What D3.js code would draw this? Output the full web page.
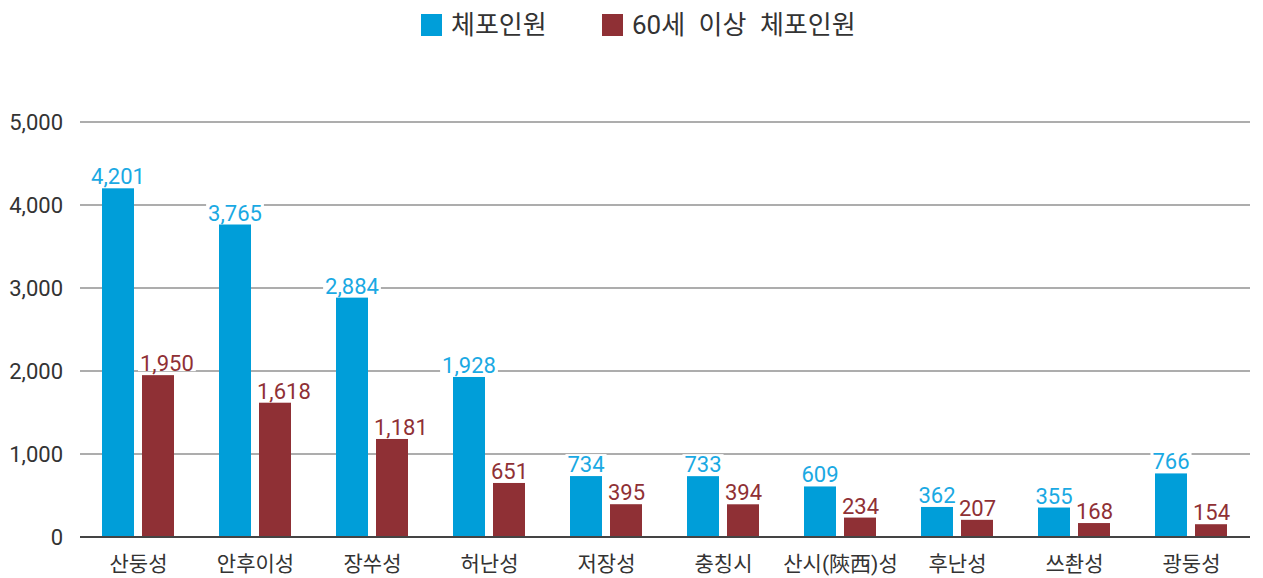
<!DOCTYPE html>
<html>
<head>
<meta charset="utf-8">
<script src="https://cdn.jsdelivr.net/npm/d3@7"></script>
<style>
  body { margin: 0; background: #fff; }
  svg { font-family: Roboto, "Noto Sans CJK KR", sans-serif; }
</style>
</head>
<body>
<svg id="chart" width="1263" height="578"></svg>
<script>
const provinces = ['산둥성', '안후이성', '장쑤성', '허난성', '저장성', '충칭시', '산시(陝西)성', '후난성', '쓰촨성', '광둥성'];
const arrested = [4201, 3765, 2884, 1928, 734, 733, 609, 362, 355, 766];
const arrested60 = [1950, 1618, 1181, 651, 395, 394, 234, 207, 168, 154];
const seriesNames = ['체포인원', '60세 이상 체포인원'];
const yTicks = [0, 1000, 2000, 3000, 4000, 5000];

const barColors = ['#009ed9', '#8f3035'];
const labelColors = ['#1aa9e3', '#8f3035'];
const fontStack = 'Roboto, "Noto Sans CJK KR", sans-serif';

const svg = d3.select('#chart');
const margin = { top: 122, right: 13, bottom: 41, left: 80 };
const width = 1263 - margin.left - margin.right;
const height = 578 - margin.top - margin.bottom;

const g = svg.append('g').attr('transform', `translate(${margin.left},${margin.top})`);

const x = d3.scaleBand().domain(provinces).range([0, width]);
const y = d3.scaleLinear().domain([0, 5000]).range([height, 0]);

// gridlines
g.selectAll('.grid')
  .data(yTicks.filter(d => d > 0))
  .enter().append('line')
  .attr('x1', 0).attr('x2', width)
  .attr('y1', d => y(d)).attr('y2', d => y(d))
  .attr('stroke', '#adadad')
  .attr('stroke-width', 2);

// y axis labels
const yAxis = g.append('g')
  .call(d3.axisLeft(y).tickValues(yTicks).tickSize(0).tickPadding(17).tickFormat(d3.format(',')));
yAxis.select('.domain').remove();
yAxis.selectAll('text')
  .style('font-size', '22px')
  .style('font-family', fontStack)
  .attr('fill', '#333');

// bars
const barW = 32, gap = 8;
const series = [arrested, arrested60];
const barLeft = (i, s) => x(provinces[i]) + x.bandwidth() / 2 + (s === 0 ? -(gap / 2 + barW) : gap / 2) - 0.5;

series.forEach((vals, s) => {
  g.selectAll('.bar' + s)
    .data(vals)
    .enter().append('rect')
    .attr('x', (d, i) => barLeft(i, s))
    .attr('y', d => y(d))
    .attr('width', barW)
    .attr('height', d => height - y(d))
    .attr('fill', barColors[s]);
});

// zero line
g.append('line')
  .attr('x1', 0).attr('x2', width)
  .attr('y1', y(0)).attr('y2', y(0))
  .attr('stroke', '#444')
  .attr('stroke-width', 2);

// value labels (white box behind, red labels kept clear of the blue bar)
series.forEach((vals, s) => {
  const lg = g.append('g');
  vals.forEach((d, i) => {
    const cell = lg.append('g');
    const bg = cell.append('rect').attr('fill', '#fff');
    const t = cell.append('text')
      .attr('y', y(d) - 4)
      .attr('font-size', '22px')
      .attr('fill', labelColors[s])
      .text(d3.format(',')(d));
    const w = t.node().getComputedTextLength();
    let left = barLeft(i, s) + barW / 2 - w / 2;
    if (s === 1) left = Math.max(left, barLeft(i, s) - 2);
    t.attr('x', left);
    bg.attr('x', left - 2).attr('width', w + 4)
      .attr('y', y(d) - 22).attr('height', 18);
  });
});

// x axis labels
const xAxis = g.append('g')
  .attr('transform', `translate(0,${height})`)
  .call(d3.axisBottom(x).tickSize(0).tickPadding(19));
xAxis.select('.domain').remove();
xAxis.selectAll('text')
  .style('font-size', '21px')
  .style('font-family', fontStack)
  .attr('fill', '#333');

// legend
const legendItems = [
  { x: 421, name: seriesNames[0], color: barColors[0] },
  { x: 602, name: seriesNames[1], color: barColors[1] }
];
const legend = svg.append('g');
legendItems.forEach(item => {
  legend.append('rect')
    .attr('x', item.x).attr('y', 14)
    .attr('width', 21).attr('height', 22)
    .attr('fill', item.color);
  legend.append('text')
    .attr('x', item.x + 30).attr('y', 25)
    .attr('dominant-baseline', 'central')
    .attr('font-size', '26px')
    .attr('word-spacing', '7px')
    .attr('fill', '#333')
    .text(item.name);
});
</script>
</body>
</html>
